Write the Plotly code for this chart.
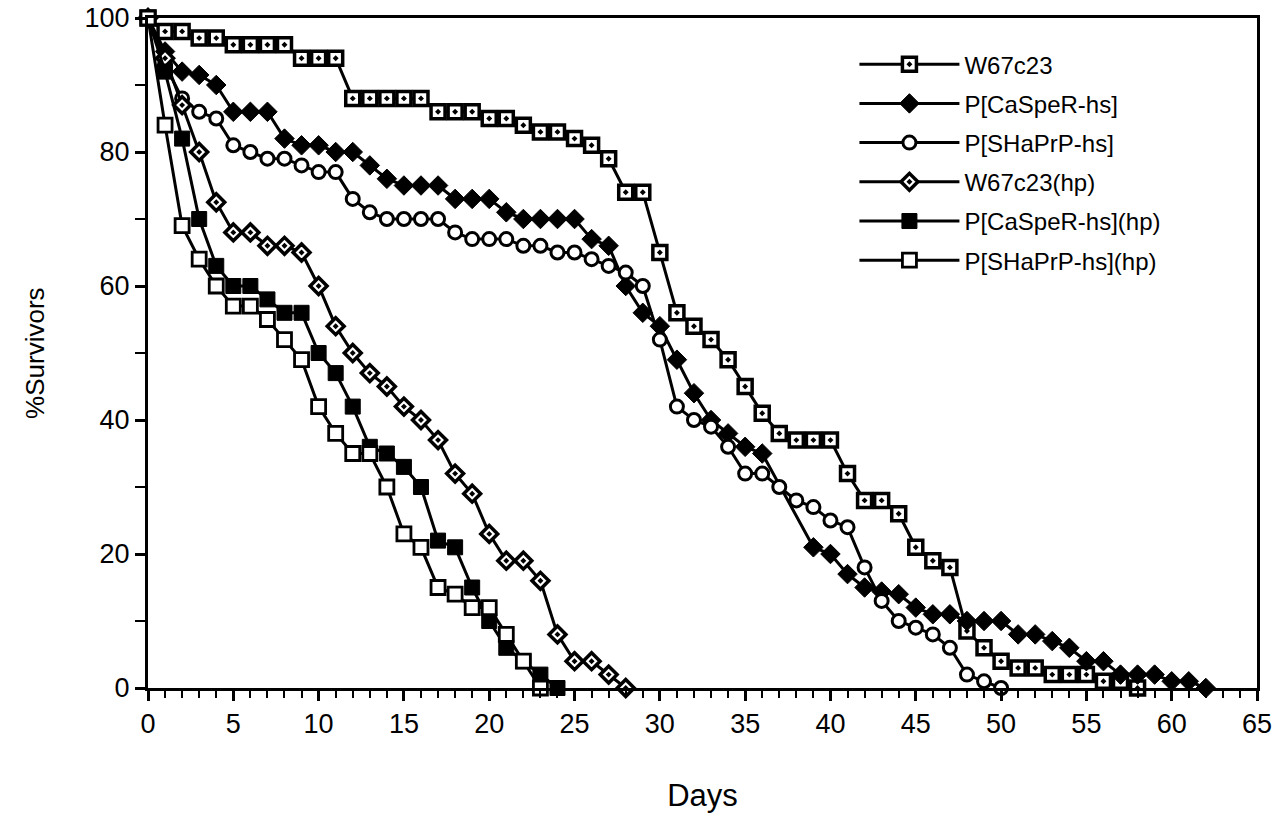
import plotly.graph_objects as go

# survival curves, % survivors per day
w67_days = list(range(0, 59))
w67 = [100, 98, 98, 97, 97, 96, 96, 96, 96, 94, 94, 94, 88, 88, 88, 88, 88, 86, 86, 86,
       85, 85, 84, 83, 83, 82, 81, 79, 74, 74, 65, 56, 54, 52, 49, 45, 41, 38, 37, 37,
       37, 32, 28, 28, 26, 21, 19, 18, 8.5, 6, 4, 3, 3, 2, 2, 2, 1, 1, 0]

casper_days = list(range(0, 37)) + list(range(39, 63))
casper = [100, 95, 92, 91.5, 90, 86, 86, 86, 82, 81, 81, 80, 80, 78, 76, 75, 75, 75, 73, 73,
          73, 71, 70, 70, 70, 70, 67, 66, 60, 56, 54, 49, 44, 40, 38, 36, 35,
          21, 20, 17, 15, 14.4, 14, 12, 11, 11, 10, 10, 10, 8, 8, 7, 6, 4, 4, 2, 2, 2, 1, 1, 0]

shaprp_days = list(range(0, 51))
shaprp = [100, 93, 88, 86, 85, 81, 80, 79, 79, 78, 77, 77, 73, 71, 70, 70, 70, 70, 68, 67,
          67, 67, 66, 66, 65, 65, 64, 63, 62, 60, 52, 42, 40, 39, 36, 32, 32, 30, 28, 27,
          25, 24, 18, 13, 10, 9, 8, 6, 2, 1, 0]

w67hp_days = list(range(0, 29))
w67hp = [100, 94, 87, 80, 72.5, 68, 68, 66, 66, 65, 60, 54, 50, 47, 45, 42, 40, 37, 32, 29,
         23, 19, 19, 16, 8, 4, 4, 2, 0]

casperhp_days = list(range(0, 25))
casperhp = [100, 92, 82, 70, 63, 60, 60, 58, 56, 56, 50, 47, 42, 36, 35, 33, 30, 22, 21, 15,
            10, 6, 4, 2, 0]

shaprphp_days = list(range(0, 24))
shaprphp = [100, 84, 69, 64, 60, 57, 57, 55, 52, 49, 42, 38, 35, 35, 30, 23, 21, 15, 14, 12,
            12, 8, 4, 0]

series = [
    ("W67c23", w67_days, w67, dict(symbol="square-dot", size=14, color="white",
                                    line=dict(color="black", width=3.5))),
    ("P[CaSpeR-hs]", casper_days, casper, dict(symbol="diamond", size=15, color="black",
                                                line=dict(color="black", width=1))),
    ("P[SHaPrP-hs]", shaprp_days, shaprp, dict(symbol="circle", size=13, color="white",
                                                line=dict(color="black", width=3))),
    ("W67c23(hp)", w67hp_days, w67hp, dict(symbol="diamond-dot", size=13, color="white",
                                            line=dict(color="black", width=3.5))),
    ("P[CaSpeR-hs](hp)", casperhp_days, casperhp, dict(symbol="square", size=15, color="black",
                                                      line=dict(color="black", width=1))),
    ("P[SHaPrP-hs](hp)", shaprphp_days, shaprphp, dict(symbol="square", size=14, color="white",
                                                      line=dict(color="black", width=2.8))),
]

fig = go.Figure()
for i, (name, xs, ys, mk) in enumerate(series):
    fig.add_trace(go.Scatter(x=xs, y=ys, name=name, mode="lines+markers",
                             line=dict(color="black", width=3), marker=mk,
                             legendgroup=str(i), cliponaxis=False))

font = "Liberation Sans, Arial, Helvetica, sans-serif"
fig.update_layout(
    width=1286, height=814,
    plot_bgcolor="white", paper_bgcolor="white",
    margin=dict(l=148, r=29, t=18, b=126),
    font=dict(family=font, size=23, color="black"),
    legend=dict(x=0.637, y=0.964, xanchor="left", yanchor="top", bgcolor="rgba(0,0,0,0)",
                font=dict(size=24), tracegroupgap=5, itemwidth=100),
    showlegend=True,
)
fig.update_xaxes(range=[0, 65], dtick=5, tick0=0, showline=True, linecolor="black", linewidth=3,
                 mirror=True, ticks="outside", ticklen=10, tickwidth=3, tickcolor="black",
                 minor=dict(dtick=1, ticks="outside", ticklen=7, tickwidth=2, tickcolor="black"),
                 showgrid=False, zeroline=False, automargin=False,
                 tickfont=dict(size=27),
                 title=dict(text="Days", standoff=46, font=dict(size=31)))
fig.update_yaxes(range=[0, 100], dtick=20, tick0=0, showline=True, linecolor="black", linewidth=3,
                 mirror=True, ticks="outside", ticklen=10, tickwidth=3, tickcolor="black",
                 minor=dict(dtick=10, ticks="outside", ticklen=10, tickwidth=2, tickcolor="black"),
                 showgrid=False, zeroline=False, automargin=False,
                 tickfont=dict(size=27))
# y title placed as a rotated annotation so it sits where the original has it
fig.add_annotation(text="%Survivors", xref="paper", yref="paper", x=-0.102, y=0.5,
                   xanchor="center", yanchor="middle", textangle=-90, showarrow=False,
                   font=dict(size=26))

# drop the default 8px page margin so the figure fills the window exactly
fig.write_html("out.html", config={"displayModeBar": False},
               post_script="document.body.style.margin='0';")
